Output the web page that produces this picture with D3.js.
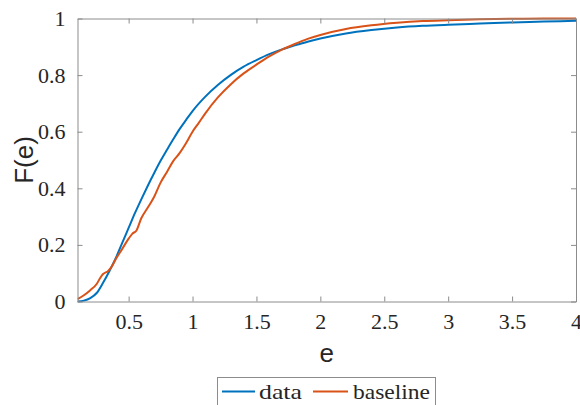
<!DOCTYPE html>
<html>
<head>
<meta charset="utf-8">
<script src="https://cdn.jsdelivr.net/npm/d3@7"></script>
<style>
  html, body { margin: 0; padding: 0; background: #fff; }
  svg { display: block; }
  svg text.serif-label { font-family: "Liberation Serif", serif !important; font-size: 22px !important; }
  svg text.sans-title { font-family: "Liberation Sans", sans-serif !important; font-size: 26px !important; }
</style>
</head>
<body>
<svg id="chart" width="580" height="405"></svg>
<script>
// Empirical CDFs of the error e
const dataE = [0.1, 0.15, 0.2, 0.25, 0.3, 0.35, 0.4, 0.45, 0.5, 0.55, 0.6, 0.65, 0.7, 0.75, 0.8, 0.85, 0.9, 0.95, 1.0, 1.1, 1.2, 1.3, 1.4, 1.5, 1.6, 1.7, 1.8, 1.9, 2.0, 2.2, 2.4, 2.6, 2.8, 3.0, 3.25, 3.5, 3.75, 4.0];
const dataF = [0.000, 0.003, 0.012, 0.030, 0.066, 0.108, 0.154, 0.207, 0.260, 0.313, 0.362, 0.409, 0.454, 0.497, 0.536, 0.574, 0.610, 0.642, 0.673, 0.724, 0.766, 0.801, 0.830, 0.853, 0.874, 0.891, 0.905, 0.918, 0.929, 0.947, 0.959, 0.968, 0.974, 0.978, 0.982, 0.986, 0.989, 0.992];

const baseE = [0.1, 0.15, 0.2, 0.25, 0.28, 0.3, 0.34, 0.37, 0.4, 0.45, 0.5, 0.53, 0.56, 0.6, 0.65, 0.7, 0.75, 0.8, 0.85, 0.9, 0.95, 1.0, 1.05, 1.1, 1.2, 1.3, 1.4, 1.5, 1.6, 1.7, 1.8, 1.9, 2.0, 2.2, 2.4, 2.6, 2.8, 3.0, 3.25, 3.5, 3.75, 4.0];
const baseF = [0.008, 0.022, 0.040, 0.062, 0.085, 0.097, 0.108, 0.125, 0.150, 0.186, 0.222, 0.240, 0.250, 0.295, 0.332, 0.370, 0.420, 0.458, 0.497, 0.525, 0.560, 0.600, 0.632, 0.665, 0.722, 0.768, 0.806, 0.837, 0.866, 0.890, 0.910, 0.928, 0.942, 0.963, 0.976, 0.985, 0.991, 0.994, 0.997, 0.999, 1.000, 1.000];

const xTicks = [0.5, 1, 1.5, 2, 2.5, 3, 3.5, 4];
const yTicks = [0, 0.2, 0.4, 0.6, 0.8, 1];
const seriesNames = ["data", "baseline"];
const seriesColors = ["#0072BD", "#D95319"];

const svg = d3.select("#chart");
const plotLeft = 77.5, plotRight = 576, plotTop = 18.5, plotBottom = 301.5;

const x = d3.scaleLinear().domain([0.1, 4]).range([plotLeft, plotRight]);
const y = d3.scaleLinear().domain([0, 1]).range([plotBottom, plotTop]);

const axisColor = "#8c8c8c";
const labelColor = "#262626";

// Curves
const line = d3.line().x(d => x(d[0])).y(d => y(d[1])).curve(d3.curveMonotoneX);
const series = [
  dataE.map((e, i) => [e, dataF[i]]),
  baseE.map((e, i) => [e, baseF[i]])
];
svg.append("defs").append("clipPath").attr("id", "plotclip")
  .append("rect").attr("x", plotLeft).attr("y", plotTop - 2).attr("width", plotRight - plotLeft).attr("height", plotBottom - plotTop + 4);
const plot = svg.append("g").attr("clip-path", "url(#plotclip)");
series.forEach((s, i) => {
  plot.append("path").datum(s)
    .attr("d", line)
    .attr("fill", "none")
    .attr("stroke", seriesColors[i])
    .attr("stroke-width", 2)
    .attr("stroke-linejoin", "round");
});

// Axes with inward ticks on all four sides
function styleAxis(g) {
  g.attr("font-family", null).attr("font-size", null);
  g.select(".domain").attr("stroke", axisColor).attr("stroke-width", 1);
  g.selectAll(".tick line").attr("stroke", axisColor);
  g.selectAll("text").attr("fill", labelColor).classed("serif-label", true);
}
const fmt = d => String(d);
svg.append("g").attr("transform", `translate(0,${plotBottom})`)
  .call(d3.axisBottom(x).tickValues(xTicks).tickFormat(fmt).tickSizeInner(-5).tickSizeOuter(0).tickPadding(12))
  .call(styleAxis);
svg.append("g").attr("transform", `translate(0,${plotTop})`)
  .call(d3.axisTop(x).tickValues(xTicks).tickFormat("").tickSizeInner(-5).tickSizeOuter(0))
  .call(styleAxis);
svg.append("g").attr("transform", `translate(${plotLeft},0)`)
  .call(d3.axisLeft(y).tickValues(yTicks).tickFormat(fmt).tickSizeInner(-5).tickSizeOuter(0).tickPadding(12))
  .call(styleAxis);
svg.append("g").attr("transform", `translate(${plotRight},0)`)
  .call(d3.axisRight(y).tickValues(yTicks).tickFormat("").tickSizeInner(-5).tickSizeOuter(0))
  .call(styleAxis);

// Axis titles
svg.append("text").attr("class", "sans-title")
  .attr("x", (plotLeft + plotRight) / 2).attr("y", 362)
  .attr("text-anchor", "middle").attr("fill", labelColor)
  .text("e");
svg.append("text").attr("class", "sans-title")
  .attr("transform", `translate(33,${(plotTop + plotBottom) / 2}) rotate(-90)`)
  .attr("text-anchor", "middle").attr("fill", labelColor)
  .text("F(e)");

// Legend
const legend = svg.append("g");
legend.append("rect")
  .attr("x", 217.5).attr("y", 377.5).attr("width", 218).attr("height", 40)
  .attr("fill", "#fff").attr("stroke", axisColor).attr("stroke-width", 1);
const legendItems = [
  { x0: 222, x1: 255, tx: 259, tw: 43 },
  { x0: 313, x1: 348, tx: 353, tw: 77 }
];
legendItems.forEach((it, i) => {
  legend.append("line")
    .attr("x1", it.x0).attr("x2", it.x1).attr("y1", 391.5).attr("y2", 391.5)
    .attr("stroke", seriesColors[i]).attr("stroke-width", 2);
  legend.append("text").attr("class", "serif-label")
    .attr("x", it.tx).attr("y", 399).attr("fill", labelColor)
    .attr("textLength", it.tw).attr("lengthAdjust", "spacingAndGlyphs")
    .text(seriesNames[i]);
});
</script>
</body>
</html>
